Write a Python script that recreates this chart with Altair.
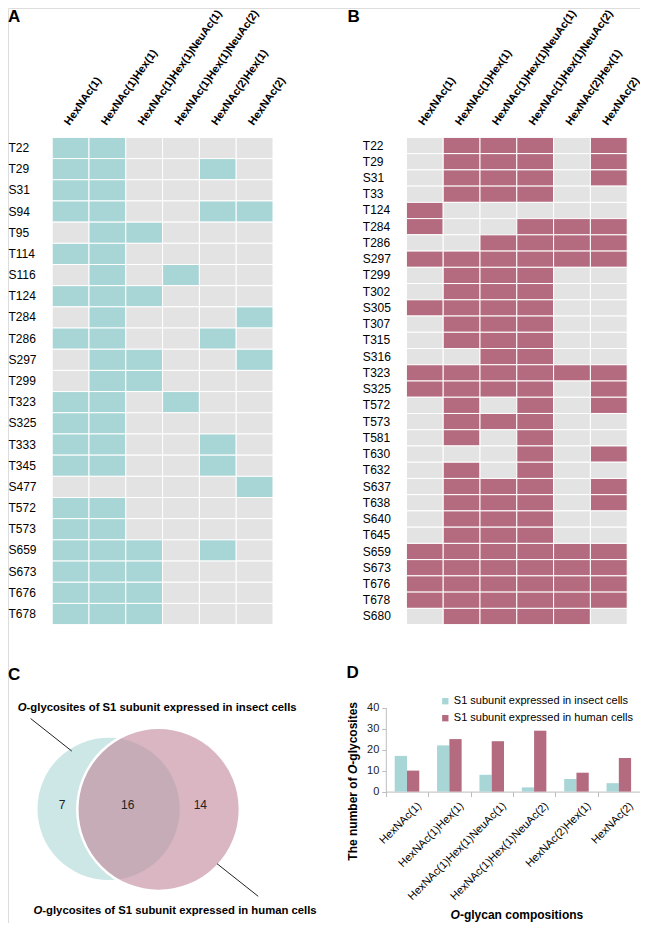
import altair as alt
import pandas as pd

# ---------------- data ----------------
compositions = [
    "HexNAc(1)", "HexNAc(1)Hex(1)", "HexNAc(1)Hex(1)NeuAc(1)",
    "HexNAc(1)Hex(1)NeuAc(2)", "HexNAc(2)Hex(1)", "HexNAc(2)",
]

insect_sites = ["T22", "T29", "S31", "S94", "T95", "T114", "S116", "T124", "T284",
                "T286", "S297", "T299", "T323", "S325", "T333", "T345", "S477",
                "T572", "T573", "S659", "S673", "T676", "T678"]
insect_presence = [
    [1, 1, 0, 0, 0, 0], [1, 1, 0, 0, 1, 0], [1, 1, 0, 0, 0, 0], [1, 1, 0, 0, 1, 1],
    [0, 1, 1, 0, 0, 0], [1, 1, 0, 0, 0, 0], [0, 1, 0, 1, 0, 0], [1, 1, 1, 0, 0, 0],
    [0, 1, 0, 0, 0, 1], [1, 1, 0, 0, 1, 0], [0, 1, 1, 0, 0, 1], [0, 1, 1, 0, 0, 0],
    [1, 1, 0, 1, 0, 0], [1, 1, 0, 0, 0, 0], [1, 1, 0, 0, 1, 0], [1, 1, 0, 0, 1, 0],
    [0, 0, 0, 0, 0, 1], [1, 1, 0, 0, 0, 0], [1, 1, 0, 0, 0, 0], [1, 1, 1, 0, 1, 0],
    [1, 1, 1, 0, 0, 0], [1, 1, 1, 0, 0, 0], [1, 1, 1, 0, 0, 0],
]

human_sites = ["T22", "T29", "S31", "T33", "T124", "T284", "T286", "S297", "T299",
               "T302", "S305", "T307", "T315", "S316", "T323", "S325", "T572", "T573",
               "T581", "T630", "T632", "S637", "T638", "S640", "T645", "S659", "S673",
               "T676", "T678", "S680"]
human_presence = [
    [0, 1, 1, 1, 0, 1], [0, 1, 1, 1, 0, 1], [0, 1, 1, 1, 0, 1], [0, 1, 1, 1, 0, 0],
    [1, 0, 0, 0, 0, 0], [1, 0, 0, 1, 1, 1], [0, 0, 1, 1, 1, 1], [1, 1, 1, 1, 1, 1],
    [0, 1, 1, 1, 0, 0], [0, 1, 1, 1, 0, 0], [1, 1, 1, 1, 0, 0], [0, 1, 1, 1, 0, 0],
    [0, 1, 1, 1, 0, 0], [0, 0, 1, 1, 0, 0], [1, 1, 1, 1, 1, 1], [1, 1, 1, 1, 0, 1],
    [0, 1, 0, 1, 0, 1], [0, 1, 1, 1, 0, 0], [0, 1, 0, 1, 0, 0], [0, 0, 0, 1, 0, 1],
    [0, 1, 0, 1, 0, 0], [0, 1, 1, 1, 0, 1], [0, 1, 1, 1, 0, 1], [0, 1, 1, 1, 0, 0],
    [0, 1, 1, 1, 0, 0], [1, 1, 1, 1, 1, 1], [1, 1, 1, 1, 1, 1], [1, 1, 1, 1, 1, 1],
    [1, 1, 1, 1, 1, 1], [0, 1, 1, 1, 1, 0],
]

cell_types = ["S1 subunit expressed in insect cells", "S1 subunit expressed in human cells"]
insect_counts = [17, 22, 8, 2, 6, 4]
human_counts = [10, 25, 24, 29, 9, 16]

venn_regions = ["insect only", "both", "human only"]
venn_values = [7, 16, 14]

# ---------------- layout / style ----------------
W, H = 632, 915
FONT = "Liberation Sans, Arial, sans-serif"
TEAL = "#a8d5d5"
PINK = "#b46b7f"
GRAY = "#e3e3e3"
TEAL_L = "#cde7e7"
PINK_L = "#bf8597"


def X(r):
    return round((r - 2) * W / 644, 1)


def Y(r):
    return round((r - 4) * H / 926, 1)


ONE = pd.DataFrame({"_": [0]})


def txt(text, x, y, **kw):
    return alt.Chart(ONE).mark_text(text=text, font=FONT, **kw).encode(
        x=alt.value(x), y=alt.value(y))


def heatmap(sites, presence, fill, gx0, gx1, lab_x):
    df = pd.DataFrame([
        {"site": s, "comp": c, "v": v}
        for s, row in zip(sites, presence) for c, v in zip(compositions, row)
    ])
    return alt.Chart(df).mark_rect(stroke="white", strokeWidth=1).encode(
        x=alt.X("comp:N", sort=compositions, title=None,
                scale=alt.Scale(domain=compositions, range=[X(gx0), X(gx1)],
                                paddingInner=0, paddingOuter=0),
                axis=alt.Axis(orient="top", offset=-Y(135), labelAngle=-55,
                              labelAlign="left", labelBaseline="alphabetic",
                              labelFontWeight="bold", labelFontSize=11, labelPadding=12,
                              labelOffset=-1, ticks=False, tickSize=0, domain=False,
                              labelLimit=300, labelColor="#000", labelFont=FONT)),
        y=alt.Y("site:N", sort=sites, title=None,
                scale=alt.Scale(domain=sites, range=[Y(135), Y(628)],
                                paddingInner=0, paddingOuter=0),
                axis=alt.Axis(orient="left", offset=-X(gx0), labelAlign="left",
                              labelBaseline="middle",
                              labelPadding=X(gx0) - X(lab_x), ticks=False, tickSize=0,
                              domain=False, labelFontSize=12, labelColor="#000",
                              labelFont=FONT)),
        color=alt.condition("datum.v == 1", alt.value(fill), alt.value(GRAY)),
        tooltip=["site:N", "comp:N", "v:Q"],
    )


layers = []

# panel letters
for letter, lx, ly in [("A", 2, 4), ("B", 348, 4), ("C", 2, 671), ("D", 347, 669)]:
    layers.append(txt(letter, X(lx), max(Y(ly), 1), fontSize=17, fontWeight="bold",
                      align="left", baseline="top", color="#000"))

# panel A and B heatmaps
layers.append(heatmap(insect_sites, insect_presence, TEAL, 47, 272, 2))
layers.append(heatmap(human_sites, human_presence, PINK, 408, 633, 363))

# panel C venn
venn_sets = pd.DataFrame({
    "set": ["insect", "human"],
    "total": [venn_values[0] + venn_values[1], venn_values[1] + venn_values[2]],
    "cx": [X(104.5), X(155.5)],
    "cy": [Y(814.5), Y(815)],
})
R_H = 82.5 * 0.985
size_scale = alt.Scale(domain=[0, 30], range=[0, (2 * R_H) ** 2])
venn_base = alt.Chart(venn_sets).encode(
    x=alt.X("cx:Q", scale=None, axis=None),
    y=alt.Y("cy:Q", scale=None, axis=None),
    size=alt.Size("total:Q", scale=size_scale, legend=None),
)
layers.append(venn_base.transform_filter("datum.set == 'insect'").mark_circle(
    color=TEAL_L, opacity=1))
layers.append(venn_base.transform_filter("datum.set == 'human'").mark_circle(
    fill=PINK_L, fillOpacity=0.6, opacity=1, stroke="white", strokeWidth=2.5))

venn_text_pos = [(57, 811), (124, 811), (198, 811)]
venn_txt = pd.DataFrame({
    "region": venn_regions,
    "label": [str(v) for v in venn_values],
    "px": [X(p[0]) for p in venn_text_pos],
    "py": [Y(p[1]) for p in venn_text_pos],
})
layers.append(alt.Chart(venn_txt).mark_text(font=FONT, fontSize=12, color="#222",
                                            baseline="middle", align="center").encode(
    x=alt.X("px:Q", scale=None, axis=None),
    y=alt.Y("py:Q", scale=None, axis=None),
    text="label:N"))

# venn pointer lines
for (x1, y1, x2, y2) in [(25, 723, 67, 756), (215, 870, 257, 903)]:
    layers.append(alt.Chart(ONE).mark_rule(color="#222", strokeWidth=1).encode(
        x=alt.value(X(x1)), y=alt.value(Y(y1)), x2=alt.value(X(x2)), y2=alt.value(Y(y2))))

# venn labels with italic O
VFS = 11.3
wO = 0.778 * VFS
for lx, ly, rest in [(12, 712, "-glycosites of S1 subunit expressed in insect cells"),
                     (28, 918, "-glycosites of S1 subunit expressed in human cells")]:
    layers.append(txt("O", X(lx), Y(ly), fontSize=VFS, fontWeight="bold",
                      fontStyle="italic", align="left", baseline="middle", color="#000"))
    layers.append(txt(rest, X(lx) + wO, Y(ly), fontSize=VFS, fontWeight="bold",
                      align="left", baseline="middle", color="#000"))

# panel D bars
dfD = pd.DataFrame({
    "comp": compositions * 2,
    "cell": [cell_types[0]] * 6 + [cell_types[1]] * 6,
    "count": insect_counts + human_counts,
})
bars = alt.Chart(dfD).mark_bar().encode(
    x=alt.X("comp:N", sort=compositions, title=None,
            scale=alt.Scale(domain=compositions, range=[X(387), X(646)],
                            paddingInner=0, paddingOuter=0),
            axis=alt.Axis(orient="bottom", offset=Y(797) - H, labelAngle=-45,
                          labelAlign="right", labelBaseline="top",
                          tickBand="extent", tickSize=5, tickColor="#bdbdbd",
                          domainColor="#bdbdbd", labelFontSize=11, labelPadding=3,
                          labelOffset=8, labelColor="#000", labelFont=FONT,
                          labelLimit=300)),
    xOffset=alt.XOffset("cell:N", sort=cell_types,
                        scale=alt.Scale(domain=cell_types, paddingOuter=0.725,
                                        paddingInner=0)),
    y=alt.Y("count:Q", title=None,
            scale=alt.Scale(domain=[0, 40], range=[Y(797), Y(712)], nice=False),
            axis=alt.Axis(orient="left", offset=-X(387), values=[0, 10, 20, 30, 40],
                          grid=False, tickSize=4, tickColor="#bdbdbd",
                          domainColor="#bdbdbd", labelFontSize=11, labelPadding=3,
                          labelColor="#222", labelFont=FONT)),
    color=alt.Color("cell:N", sort=cell_types,
                    scale=alt.Scale(domain=cell_types, range=[TEAL, PINK]),
                    legend=alt.Legend(orient="none", legendX=X(442), legendY=Y(700),
                                      title=None, symbolType="square", symbolSize=40,
                                      symbolStrokeWidth=0, labelFontSize=11,
                                      labelOffset=3, rowPadding=5, padding=0,
                                      labelLimit=400,
                                      labelColor="#000", labelFont=FONT)),
)
layers.append(bars)

# axis titles for D (mixed italic)
AFS = 12
w1 = 7.223 * AFS
wOa = 0.778 * AFS
ybot = Y(867)
xt = X(353)
layers.append(txt("The number of ", xt, ybot, fontSize=AFS, fontWeight="bold", angle=270,
                  align="left", baseline="middle", color="#000"))
layers.append(txt("O", xt, ybot - w1, fontSize=AFS, fontWeight="bold", fontStyle="italic",
                  angle=270, align="left", baseline="middle", color="#000"))
layers.append(txt("-glycosites", xt, ybot - w1 - wOa, fontSize=AFS, fontWeight="bold",
                  angle=270, align="left", baseline="middle", color="#000"))

xs = X(453)
layers.append(txt("O", xs, Y(922), fontSize=AFS, fontWeight="bold", fontStyle="italic",
                  align="left", baseline="middle", color="#000"))
layers.append(txt("-glycan compositions", xs + wOa, Y(922), fontSize=AFS,
                  fontWeight="bold", align="left", baseline="middle", color="#000"))

chart = alt.layer(*layers).resolve_scale(
    x="independent", y="independent", color="independent", size="independent",
).properties(
    width=W, height=H, autosize=alt.AutoSizeParams(type="none"), padding=0,
).configure_view(stroke=None).configure(font=FONT)

chart.save("out.html", embed_options={"renderer": "svg", "actions": False})
